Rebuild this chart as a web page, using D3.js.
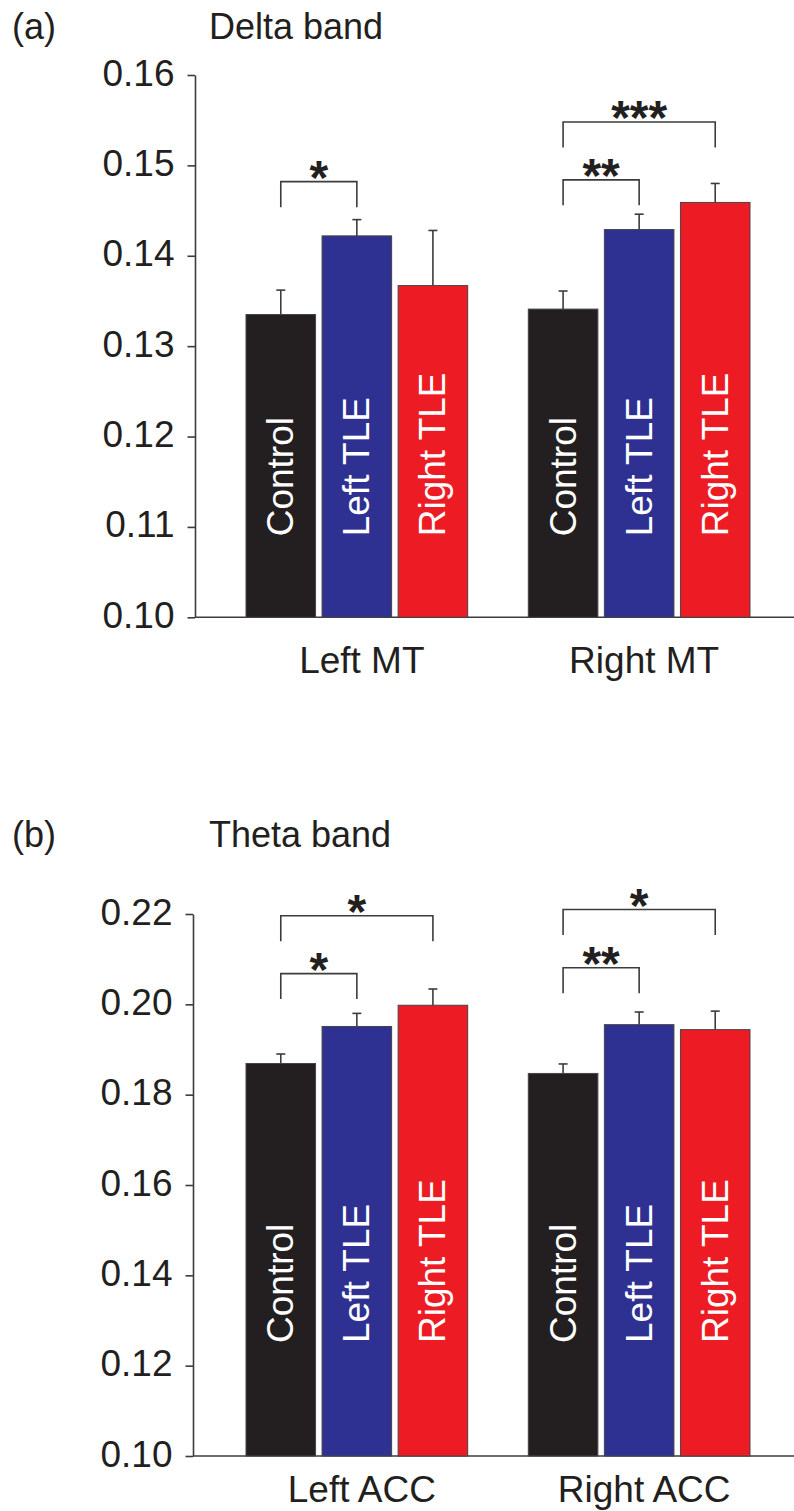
<!DOCTYPE html>
<html>
<head>
<meta charset="utf-8">
<script src="https://cdn.jsdelivr.net/npm/d3@7"></script>
<style>
  html, body { margin: 0; padding: 0; background: #fff; }
  svg { display: block; font-family: "Liberation Sans", Arial, sans-serif; }
</style>
</head>
<body>
<div id="chart"></div>
<script>
// data
var series = ['Control', 'Left TLE', 'Right TLE'];
var seriesColors = ['#231f20', '#2e3192', '#ed1c24'];

var deltaGroups = ['Left MT', 'Right MT'];
var deltaMean = [[0.1335, 0.1422, 0.1367], [0.1341, 0.1429, 0.1459]];
var deltaErr  = [[0.0027, 0.0018, 0.0061], [0.0020, 0.0017, 0.0021]];
var deltaTicks = [0.10, 0.11, 0.12, 0.13, 0.14, 0.15, 0.16];
var deltaSig = [
  { group: 'Left MT',  from: 'Control', to: 'Left TLE',  y: 0.1482, label: '*' },
  { group: 'Right MT', from: 'Control', to: 'Right TLE', y: 0.1548, label: '***' },
  { group: 'Right MT', from: 'Control', to: 'Left TLE',  y: 0.1484, label: '**' }
];

var thetaGroups = ['Left ACC', 'Right ACC'];
var thetaMean = [[0.1869, 0.1951, 0.1998], [0.1847, 0.1955, 0.1944]];
var thetaErr  = [[0.0021, 0.0029, 0.0036], [0.0021, 0.0028, 0.0041]];
var thetaTicks = [0.10, 0.12, 0.14, 0.16, 0.18, 0.20, 0.22];
var thetaSig = [
  { group: 'Left ACC',  from: 'Control', to: 'Right TLE', y: 0.2196, label: '*' },
  { group: 'Left ACC',  from: 'Control', to: 'Left TLE',  y: 0.2068, label: '*' },
  { group: 'Right ACC', from: 'Control', to: 'Right TLE', y: 0.2210, label: '*' },
  { group: 'Right ACC', from: 'Control', to: 'Left TLE',  y: 0.2081, label: '**' }
];

var width = 794, height = 1511;
var ink = '#231f20', lineCol = '#3c3c3c';

var svg = d3.select('#chart').append('svg')
  .attr('width', width)
  .attr('height', height);

function drawPanel(p) {
  var g = svg.append('g');

  var y = d3.scaleLinear()
    .domain([p.ticks[0], p.ticks[p.ticks.length - 1]])
    .range([p.yBottom, p.yTop]);
  var x0 = d3.scaleBand()
    .domain(p.groups)
    .range([246, 750])
    .paddingInner(0.2147)
    .paddingOuter(0);
  var x1 = d3.scaleBand()
    .domain(series)
    .range([0, x0.bandwidth()])
    .paddingInner(0.0855)
    .paddingOuter(0);

  // panel letter and title
  g.append('text').attr('x', 12).attr('y', p.titleY)
    .attr('font-size', 36).attr('fill', ink).text(p.letter);
  g.append('text').attr('x', 209).attr('y', p.titleY)
    .attr('font-size', 36).attr('fill', ink).text(p.title);

  // y axis
  var yAxis = g.append('g')
    .attr('transform', 'translate(' + p.axisX + ',0)')
    .call(d3.axisLeft(y).tickValues(p.ticks).tickFormat(d3.format('.2f'))
      .tickSize(7.5).tickSizeOuter(0).tickPadding(13));
  yAxis.select('.domain').attr('stroke', lineCol).attr('stroke-width', 1.6);
  yAxis.selectAll('.tick line').attr('stroke', lineCol).attr('stroke-width', 1.6);
  yAxis.selectAll('.tick text')
    .attr('font-family', '"Liberation Sans", Arial, sans-serif')
    .attr('font-size', 37).attr('fill', ink)
    .attr('dy', null).attr('y', 10);

  // baseline
  g.append('line')
    .attr('x1', p.axisX).attr('x2', width)
    .attr('y1', y(p.ticks[0])).attr('y2', y(p.ticks[0]))
    .attr('stroke', lineCol).attr('stroke-width', 1.6);

  // bars, error bars, in-bar labels
  p.groups.forEach(function(grp, gi) {
    var gg = g.append('g').attr('transform', 'translate(' + x0(grp) + ',0)');
    var rows = series.map(function(s, si) {
      return { s: s, c: seriesColors[si], m: p.mean[gi][si], e: p.err[gi][si] };
    });

    gg.selectAll('line.err').data(rows).enter().append('line')
      .attr('class', 'err')
      .attr('x1', function(d) { return x1(d.s) + x1.bandwidth() / 2; })
      .attr('x2', function(d) { return x1(d.s) + x1.bandwidth() / 2; })
      .attr('y1', function(d) { return y(d.m); })
      .attr('y2', function(d) { return y(d.m + d.e); })
      .attr('stroke', lineCol).attr('stroke-width', 1.6);
    gg.selectAll('line.cap').data(rows).enter().append('line')
      .attr('class', 'cap')
      .attr('x1', function(d) { return x1(d.s) + x1.bandwidth() / 2 - 4.5; })
      .attr('x2', function(d) { return x1(d.s) + x1.bandwidth() / 2 + 4.5; })
      .attr('y1', function(d) { return y(d.m + d.e); })
      .attr('y2', function(d) { return y(d.m + d.e); })
      .attr('stroke', lineCol).attr('stroke-width', 1.6);

    gg.selectAll('rect').data(rows).enter().append('rect')
      .attr('x', function(d) { return x1(d.s); })
      .attr('y', function(d) { return y(d.m); })
      .attr('width', x1.bandwidth())
      .attr('height', function(d) { return y(p.ticks[0]) - y(d.m); })
      .attr('fill', function(d) { return d.c; })
      .attr('stroke', '#444').attr('stroke-width', 1);

    gg.selectAll('text.inbar').data(rows).enter().append('text')
      .attr('class', 'inbar')
      .attr('transform', function(d) {
        var tx = x1(d.s) + x1.bandwidth() / 2 + 12.5;
        var ty = y(p.ticks[0]) - p.labelLift;
        return 'translate(' + tx + ',' + ty + ') rotate(-90)';
      })
      .attr('font-size', 37).attr('fill', '#fff')
      .text(function(d) { return d.s; });

    // category label
    g.append('text')
      .attr('x', x0(grp) + x0.bandwidth() / 2 + 5)
      .attr('y', p.catY)
      .attr('text-anchor', 'middle')
      .attr('font-size', 37).attr('fill', ink)
      .text(grp);
  });

  // significance brackets
  var leg = 25.5;
  p.sig.forEach(function(b) {
    var xa = x0(b.group) + x1(b.from) + x1.bandwidth() / 2;
    var xb = x0(b.group) + x1(b.to) + x1.bandwidth() / 2;
    var yt = y(b.y);
    g.append('path')
      .attr('d', 'M' + xa + ',' + (yt + leg) + 'V' + yt + 'H' + xb + 'V' + (yt + leg))
      .attr('fill', 'none').attr('stroke', lineCol).attr('stroke-width', 1.6);
    g.append('text')
      .attr('x', (xa + xb) / 2)
      .attr('y', yt - 15 + 0.57 * 48)
      .attr('text-anchor', 'middle')
      .attr('font-size', 48).attr('font-weight', 'bold').attr('fill', ink)
      .text(b.label);
  });
}

drawPanel({
  letter: '(a)', title: 'Delta band', titleY: 39,
  groups: deltaGroups, mean: deltaMean, err: deltaErr, ticks: deltaTicks, sig: deltaSig,
  yTop: 75, yBottom: 617.3, axisX: 195, catY: 673.3, labelLift: 81
});
drawPanel({
  letter: '(b)', title: 'Theta band', titleY: 847,
  groups: thetaGroups, mean: thetaMean, err: thetaErr, ticks: thetaTicks, sig: thetaSig,
  yTop: 914, yBottom: 1456, axisX: 193, catY: 1501.7, labelLift: 113
});
</script>
</body>
</html>
